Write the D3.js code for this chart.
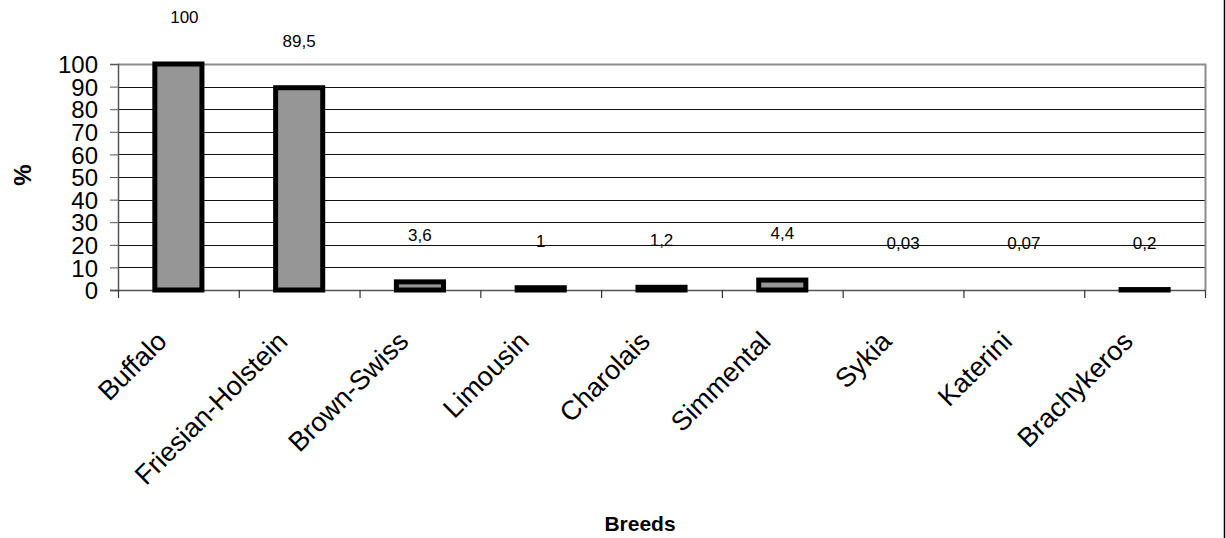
<!DOCTYPE html>
<html>
<head>
<meta charset="utf-8">
<script src="https://cdn.jsdelivr.net/npm/d3@7"></script>
<style>
  html, body { margin: 0; padding: 0; background: #fff; }
  svg { display: block; font-family: "Liberation Sans", Arial, sans-serif; }
</style>
</head>
<body>
<svg id="chart" width="1226" height="538"></svg>
<script>
// Breeds and their share (%)
const breeds = ["Buffalo", "Friesian-Holstein", "Brown-Swiss", "Limousin", "Charolais",
                "Simmental", "Sykia", "Katerini", "Brachykeros"];
const percents = [100, 89.5, 3.6, 1, 1.2, 4.4, 0.03, 0.07, 0.2];
const valueLabels = ["100", "89,5", "3,6", "1", "1,2", "4,4", "0,03", "0,07", "0,2"];
const yTicks = [0, 10, 20, 30, 40, 50, 60, 70, 80, 90, 100];

const svg = d3.select("#chart");
const plot = { left: 118, right: 1205, top: 64, bottom: 290 };

const x = d3.scaleBand().domain(breeds).range([plot.left, plot.right]).paddingInner(0).paddingOuter(0);
const y = d3.scaleLinear().domain([0, 100]).range([plot.bottom, plot.top]);

// outer frame line on the right
svg.append("line")
  .attr("x1", 1224.5).attr("x2", 1224.5).attr("y1", 0).attr("y2", 538)
  .attr("stroke", "#000").attr("stroke-width", 1.5);

// gridlines
svg.append("g").selectAll("line").data(yTicks.filter(d => d > 0 && d < 100)).join("line")
  .attr("x1", plot.left).attr("x2", plot.right)
  .attr("y1", d => Math.round(y(d)) + 0.5).attr("y2", d => Math.round(y(d)) + 0.5)
  .attr("stroke", "#111").attr("stroke-width", 1.2);

// plot area border (top and right)
svg.append("path")
  .attr("d", `M${plot.left},${plot.top + 0.5}H${plot.right + 0.5}V${plot.bottom}`)
  .attr("fill", "none").attr("stroke", "#8c8c8c").attr("stroke-width", 2);

// y axis
const yAxis = d3.axisLeft(y).tickValues(yTicks).tickSize(8).tickPadding(12).tickFormat(d3.format("d"));
const gy = svg.append("g").attr("transform", `translate(${plot.left},0)`).call(yAxis);
gy.select(".domain").attr("stroke", "#555").attr("stroke-width", 1.5);
gy.selectAll(".tick line").attr("stroke", "#555");
gy.selectAll("text").attr("font-size", 24).attr("fill", "#000").attr("dy", "0.36em")
  .style("font-family", "'Liberation Sans', Arial, sans-serif");

// x axis baseline and category boundary ticks
svg.append("line")
  .attr("x1", plot.left - 8).attr("x2", plot.right).attr("y1", plot.bottom + 0.5).attr("y2", plot.bottom + 0.5)
  .attr("stroke", "#555").attr("stroke-width", 1.5);
const bounds = breeds.map(b => x(b)).concat([plot.right]);
svg.append("g").selectAll("line").data(bounds).join("line")
  .attr("x1", d => d + 0.5).attr("x2", d => d + 0.5)
  .attr("y1", plot.bottom).attr("y2", plot.bottom + 8)
  .attr("stroke", "#333").attr("stroke-width", 1.2);

// bars
const barW = x.bandwidth() * 0.39;
const data = breeds.map((b, i) => ({ breed: b, value: percents[i], label: valueLabels[i] }));
svg.append("g").selectAll("rect")
  .data(data.filter(d => y(0) - y(d.value) >= 0.3)).join("rect")
  .attr("x", d => x(d.breed) + (x.bandwidth() - barW) / 2)
  .attr("y", d => y(d.value))
  .attr("width", barW)
  .attr("height", d => y(0) - y(d.value))
  .attr("fill", "#969696")
  .attr("stroke", "#000")
  .attr("stroke-width", 5);

// value labels
svg.append("g").selectAll("text").data(data).join("text")
  .attr("x", d => x(d.breed) + x.bandwidth() / 2 + (d.value === 100 ? 6 : 0))
  .attr("y", d => y(d.value) - 41)
  .attr("text-anchor", "middle")
  .attr("font-size", 17)
  .text(d => d.label);

// rotated category labels
svg.append("g").selectAll("text").data(breeds).join("text")
  .attr("transform", d => `translate(${x(d) + x.bandwidth() / 2 - 10},${plot.bottom + 53}) rotate(-45)`)
  .attr("text-anchor", "end")
  .attr("font-size", 27)
  .text(d => d);

// axis titles
svg.append("text")
  .attr("transform", "translate(31,175) rotate(-90)")
  .attr("text-anchor", "middle")
  .attr("font-size", 24).attr("font-weight", "bold")
  .text("%");
svg.append("text")
  .attr("x", 640).attr("y", 531)
  .attr("text-anchor", "middle")
  .attr("font-size", 21).attr("font-weight", "bold")
  .text("Breeds");
</script>
</body>
</html>
